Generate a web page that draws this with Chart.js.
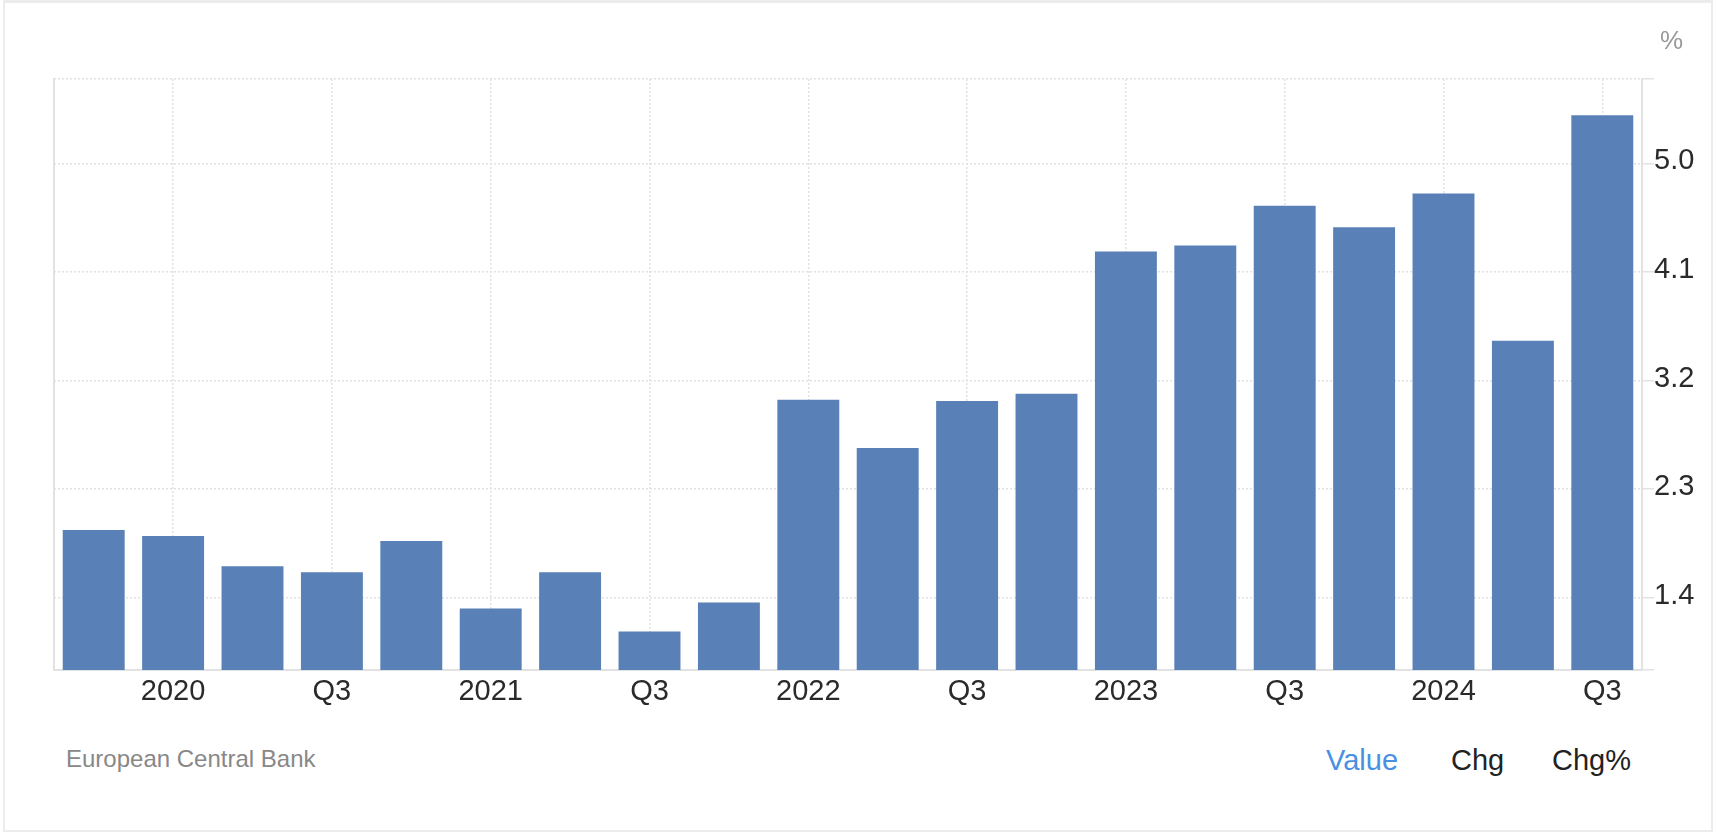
<!DOCTYPE html>
<html>
<head>
<meta charset="utf-8">
<script src="https://cdn.jsdelivr.net/npm/chart.js@4.4.1/dist/chart.umd.min.js"></script>
<style>
  html, body { margin: 0; padding: 0; background: #fff; }
  body { width: 1716px; height: 834px; position: relative; overflow: hidden;
         font-family: "Helvetica Neue", Helvetica, Arial, "Liberation Sans", sans-serif; }
  .card { position: absolute; left: 3px; top: 0; width: 1706px; height: 827px;
          border: 2px solid #ececec; border-top-width: 3px; }
  .wrap { position: absolute; left: 0; top: 0; width: 1716px; height: 720px; }
  .unit { position: absolute; left: 1660px; top: 25px; font-size: 26px; color: #999; }
  .source { position: absolute; left: 66px; top: 745px; font-size: 24px; color: #888; }
  .tabs span { position: absolute; top: 744px; font-size: 29px; color: #222; }
</style>
</head>
<body>
<div class="card"></div>
<div class="wrap"><canvas id="chart"></canvas></div>
<div class="unit">%</div>
<div class="source">European Central Bank</div>
<div class="tabs">
  <span style="left:1326px;color:#4a90e2">Value</span>
  <span style="left:1451px">Chg</span>
  <span style="left:1552px">Chg%</span>
</div>
<script>
// quarterly values, 2019 Q4 .. 2024 Q3
const quarters = ['2019 Q4', '2020 Q1', '2020 Q2', '2020 Q3', '2020 Q4',
                  '2021 Q1', '2021 Q2', '2021 Q3', '2021 Q4',
                  '2022 Q1', '2022 Q2', '2022 Q3', '2022 Q4',
                  '2023 Q1', '2023 Q2', '2023 Q3', '2023 Q4',
                  '2024 Q1', '2024 Q2', '2024 Q3'];
const tickLabels = ['', '2020', '', 'Q3', '', '2021', '', 'Q3', '', '2022',
                    '', 'Q3', '', '2023', '', 'Q3', '', '2024', '', 'Q3'];
const values = [1.96, 1.91, 1.66, 1.61, 1.87, 1.31, 1.61, 1.12, 1.36, 3.04,
                2.64, 3.03, 3.09, 4.27, 4.32, 4.65, 4.47, 4.75, 3.53, 5.40];
const yTicks = [1.4, 2.3, 3.2, 4.1, 5.0];
const yMin = 0.8;
const yMax = 5.7;

const gridColor = '#e2e2e2';
const axisColor = '#e2e2e2';
const font = { family: '"Helvetica Neue", Helvetica, Arial, "Liberation Sans", sans-serif', size: 29 };

new Chart(document.getElementById('chart'), {
    type: 'bar',
    data: {
        labels: quarters,
        datasets: [{
            data: values,
            backgroundColor: '#5980b7',
            borderWidth: 0,
            barPercentage: 0.78,
            categoryPercentage: 1.0,
            yAxisID: 'y'
        }]
    },
    options: {
        responsive: true,
        maintainAspectRatio: false,
        animation: false,
        layout: { padding: { top: 79, left: 54, right: 0, bottom: 0 } },
        plugins: { legend: { display: false }, tooltip: { enabled: false } },
        scales: {
            x: {
                grid: {
                    offset: false,
                    drawTicks: false,
                    lineWidth: 1.5,
                    color: c => tickLabels[c.index] ? gridColor : 'rgba(0,0,0,0)'
                },
                // in v4 border.dash is the dash of the grid lines
                border: { display: true, color: axisColor, width: 2, dash: [2, 2] },
                ticks: {
                    autoSkip: false,
                    maxRotation: 0,
                    padding: 5,
                    color: '#2a2a2a',
                    font: font,
                    callback: (v, i) => tickLabels[i]
                },
                afterFit: s => { s.height = 50; }
            },
            y: {
                position: 'right',
                min: yMin,
                max: yMax,
                afterBuildTicks: s => {
                    s.ticks = [yMin].concat(yTicks, [yMax]).map(v => ({ value: v }));
                },
                grid: {
                    lineWidth: 1.5,
                    color: gridColor,
                    tickColor: axisColor,
                    tickLength: 12,
                    tickWidth: 1.5
                },
                border: { display: true, color: axisColor, width: 2, dash: [2, 2] },
                ticks: {
                    padding: 0,
                    labelOffset: -2,
                    color: '#2a2a2a',
                    font: font,
                    callback: v => yTicks.includes(v) ? v.toFixed(1) : ''
                },
                afterFit: s => { s.width = 74; }
            },
            yLeft: {
                position: 'left',
                min: yMin,
                max: yMax,
                grid: { drawOnChartArea: false, drawTicks: false },
                border: { display: true, color: axisColor, width: 2 },
                ticks: { display: false },
                afterFit: s => { s.width = 0; }
            }
        }
    }
});
</script>
</body>
</html>
